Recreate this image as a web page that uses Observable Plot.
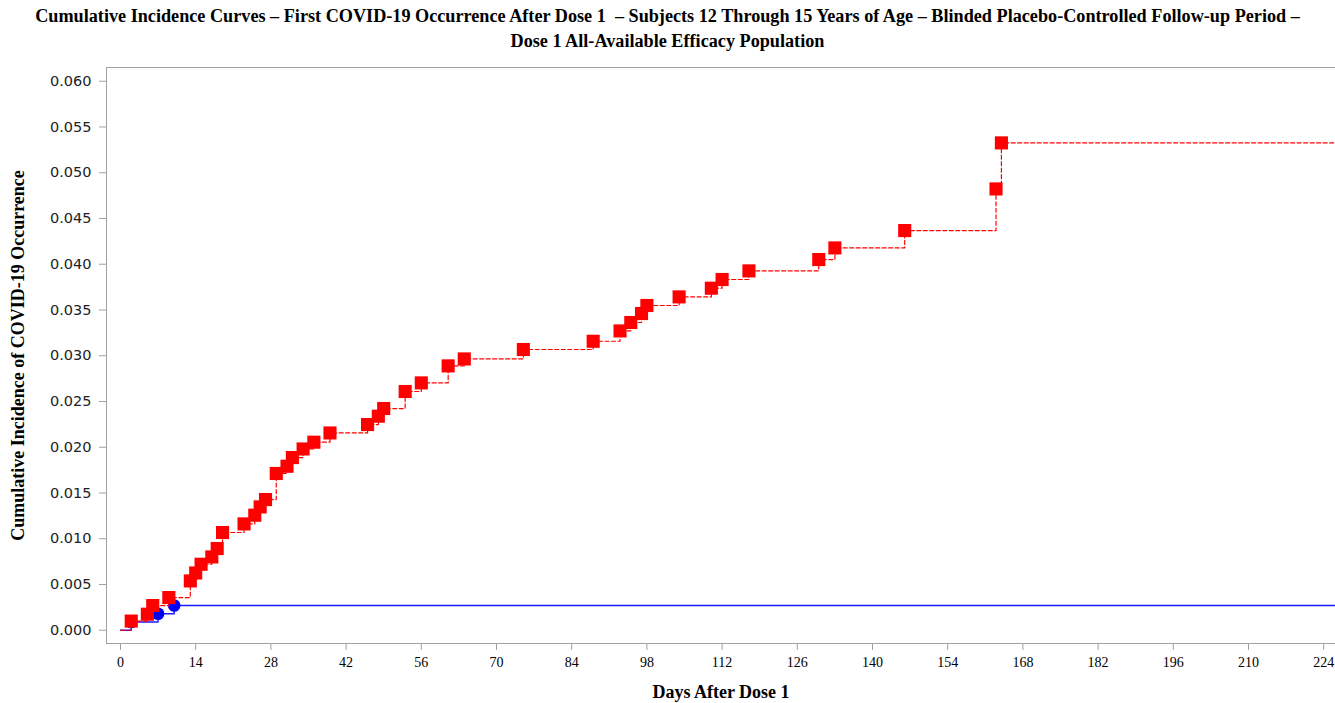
<!DOCTYPE html>
<html>
<head>
<meta charset="utf-8">
<script src="https://cdn.jsdelivr.net/npm/d3@7"></script>
<script src="https://cdn.jsdelivr.net/npm/@observablehq/plot@0.6"></script>
<style>
  html, body { margin: 0; padding: 0; background: #fff; overflow: hidden; }
  #title { height: 55px; box-sizing: border-box; padding-top: 4px; text-align: center;
    font: bold 18.2px "Liberation Serif", "DejaVu Serif", serif; line-height: 25px; white-space: pre; color: #000; }
  #chart svg { display: block; }
</style>
</head>
<body>
<div id="title">Cumulative Incidence Curves – First COVID-19 Occurrence After Dose 1  – Subjects 12 Through 15 Years of Age – Blinded Placebo-Controlled Follow-up Period –
Dose 1 All-Available Efficacy Population</div>
<div id="chart"></div>
<script>
// ---- data ----
const placeboDays = [2, 5, 6, 9, 13, 14, 15, 17, 18, 19, 23, 25, 26, 27, 29, 31, 32, 34, 36, 39,
  46, 48, 49, 53, 56, 61, 64, 75, 88, 93, 95, 97, 98, 104, 110, 112, 117, 130, 133, 146, 163, 164];
const placeboCI = [0.0010, 0.00175, 0.00270, 0.00357, 0.00539, 0.00626, 0.00721, 0.00801, 0.00893, 0.01068,
  0.01162, 0.01257, 0.01348, 0.01428, 0.01713, 0.01792, 0.01887, 0.01981, 0.02055, 0.02156,
  0.02248, 0.02339, 0.02423, 0.02609, 0.02703, 0.02889, 0.02965, 0.03068, 0.03158, 0.03271,
  0.03363, 0.03461, 0.03549, 0.03643, 0.03738, 0.03833, 0.03927, 0.04051, 0.04178, 0.04368,
  0.04823, 0.05326];
const vaccineDays = [2, 7, 10];
const vaccineCI = [0.0009, 0.0018, 0.0027];
const followUpEnd = 227;
const xTicks = [0, 14, 28, 42, 56, 70, 84, 98, 112, 126, 140, 154, 168, 182, 196, 210, 224];
const yTicks = [0, 0.005, 0.01, 0.015, 0.02, 0.025, 0.03, 0.035, 0.04, 0.045, 0.05, 0.055, 0.06];
const xLabel = "Days After Dose 1";
const yLabel = "Cumulative Incidence of COVID-19 Occurrence";

// ---- build step series ----
function series(days, vals) {
  const pts = [{day: 0, ci: 0}];
  days.forEach((d, i) => pts.push({day: d, ci: vals[i]}));
  pts.push({day: followUpEnd, ci: vals[vals.length - 1]});
  return pts;
}
const placeboLine = series(placeboDays, placeboCI);
const vaccineLine = series(vaccineDays, vaccineCI);
const placeboPts = placeboDays.map((d, i) => ({day: d, ci: placeboCI[i]}));
const vaccinePts = vaccineDays.map((d, i) => ({day: d, ci: vaccineCI[i]}));

const xDomain = [-2.606, 226.2];
const yDomain = [-0.00145, 0.0615];

const chart = Plot.plot({
  width: 1335,
  height: 648,
  marginLeft: 106,
  marginRight: 0,
  marginTop: 12,
  marginBottom: 60,
  style: {background: "#fff", fontFamily: "Liberation Serif, DejaVu Serif, serif", color: "#000"},
  x: {domain: xDomain},
  y: {domain: yDomain},
  marks: [
    Plot.ruleX([xDomain[0]], {stroke: "#a0a0a0", strokeWidth: 1}),
    Plot.ruleY([yDomain[0], yDomain[1]], {stroke: "#a0a0a0", strokeWidth: 1}),
    Plot.axisX({ticks: xTicks, tickSize: 7, tickPadding: 7, label: null, fontSize: 14, stroke: "#a0a0a0", tickFormat: d => String(d)}),
    Plot.axisY({ticks: yTicks, tickSize: 7, tickPadding: 8, label: null, fontSize: 14.5, fontFamily: "DejaVu Sans, Verdana, sans-serif", stroke: "#a0a0a0", fill: "#222", tickFormat: d3.format(".3f")}),
    Plot.line(vaccineLine, {x: "day", y: "ci", curve: "step-after", stroke: "#1a1aff", strokeWidth: 1.4, clip: true}),
    Plot.dot(vaccinePts, {x: "day", y: "ci", r: 6.3, fill: "#0000ff", stroke: "none"}),
    Plot.line(placeboLine, {x: "day", y: "ci", curve: "step-after", stroke: "#ff0000", strokeWidth: 1.2, strokeDasharray: "4,2.5", clip: true}),
    Plot.dot(placeboPts, {x: "day", y: "ci", symbol: "square", r: 7.4, fill: "#ff0000", stroke: "none"}),
    Plot.text([xLabel], {frameAnchor: "bottom", dy: 49, lineAnchor: "middle", fontSize: 18, fontWeight: "bold", fill: "#000"}),
    Plot.text([yLabel], {frameAnchor: "left", dx: -88, rotate: -90, textAnchor: "middle", lineAnchor: "middle", fontSize: 18, fontWeight: "bold", fill: "#000"})
  ]
});
document.getElementById("chart").appendChild(chart);
</script>
</body>
</html>
